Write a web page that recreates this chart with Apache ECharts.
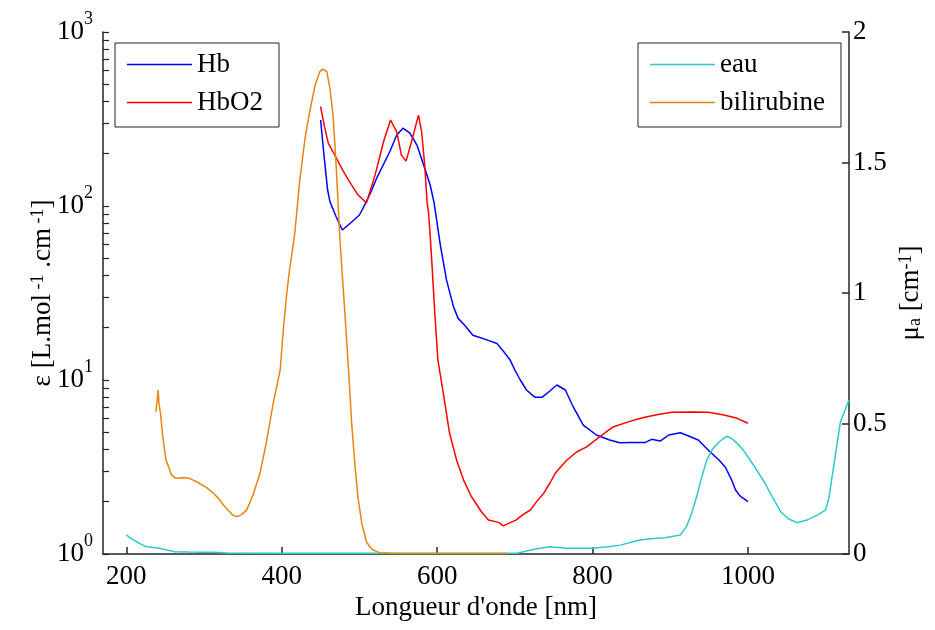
<!DOCTYPE html>
<html>
<head>
<meta charset="utf-8">
<script src="https://cdn.jsdelivr.net/npm/echarts@6/dist/echarts.min.js"></script>
<style>
  html, body { margin: 0; padding: 0; background: #fff; }
  #chart { width: 935px; height: 630px; }
</style>
</head>
<body>
<div id="chart"></div>
<script>
// Molar extinction of deoxy-haemoglobin (Hb), L.mol-1.cm-1 (left, log axis)
const hbNm = [450, 455, 459, 462, 470, 478, 490, 500, 508, 515, 522, 530, 539, 548, 556, 565, 574, 584, 591, 596,
  604, 612, 621, 627, 636, 646, 656, 664, 677, 686, 694, 700, 707, 715, 726, 735, 745, 754, 765, 775,
  788, 805, 822, 835, 850, 868, 876, 887, 898, 913, 926, 936, 951, 962, 971, 979, 984, 990, 1000];
const hbEps = [312, 184, 124, 106, 86.8, 72.8, 80.9, 88.8, 104, 121, 144, 170, 205, 256, 280, 262, 224, 165, 132, 105,
  60, 37.6, 26.4, 22.6, 20.5, 18.1, 17.5, 17.0, 16.2, 14.5, 13.0, 11.4, 10.0, 8.76, 7.95, 7.95, 8.65, 9.36, 8.76, 7.02,
  5.51, 4.83, 4.52, 4.36, 4.38, 4.38, 4.56, 4.46, 4.83, 4.98, 4.72, 4.52, 3.87, 3.49, 3.15, 2.66, 2.33, 2.15, 2.0];

// Molar extinction of oxy-haemoglobin (HbO2)
const hbo2Nm = [450, 455, 460, 470, 478, 486, 498, 509, 520, 531, 540, 548, 554, 560, 567, 576, 580, 584, 587, 589,
  591, 593, 597, 601, 608, 616, 625, 634, 644, 657, 666, 679, 685, 692, 702, 710, 720, 728, 737, 745,
  752, 760, 767, 780, 793, 810, 818, 827, 844, 857, 870, 886, 902, 930, 949, 969, 986, 1000];
const hbo2Eps = [372, 286, 229, 190, 162, 141, 116, 104, 150, 234, 312, 267, 196, 181, 234, 333, 267, 172, 106, 90.8,
  68, 49, 24.2, 13.0, 8.38, 4.94, 3.47, 2.66, 2.14, 1.75, 1.57, 1.52, 1.45, 1.5, 1.57, 1.68, 1.79, 2.0, 2.23, 2.55,
  2.91, 3.2, 3.47, 3.87, 4.14, 4.75, 5.05, 5.39, 5.71, 5.95, 6.15, 6.35, 6.52, 6.55, 6.52, 6.29, 6.02, 5.64];

// Absorption coefficient of water, cm-1 (right axis)
const eauNm = [200, 206, 213, 220, 226, 235, 243, 252, 262, 280, 300, 311, 330, 400, 500, 600, 690, 704, 711, 725,
  745, 767, 800, 820, 836, 852, 861, 875, 893, 913, 921, 928, 934, 940, 947, 954, 963, 973, 980, 986,
  994, 1007, 1022, 1032, 1042, 1052, 1063, 1076, 1090, 1100, 1104, 1110, 1119, 1130];
const eauMu = [0.073, 0.06, 0.047, 0.036, 0.028, 0.025, 0.022, 0.015, 0.009, 0.008, 0.007, 0.0065, 0.004, 0.003, 0.003, 0.003, 0.003, 0.004, 0.009, 0.018,
  0.028, 0.022, 0.022, 0.028, 0.034, 0.047, 0.054, 0.058, 0.062, 0.073, 0.105, 0.16, 0.22, 0.29, 0.36, 0.40, 0.43, 0.452, 0.44, 0.424,
  0.398, 0.341, 0.271, 0.215, 0.162, 0.135, 0.12, 0.13, 0.15, 0.169, 0.213, 0.33, 0.507, 0.59];

// Absorption coefficient of bilirubin, cm-1 (right axis)
const biliNm = [238, 239.5, 241, 242, 244, 247, 251, 255, 258, 264, 272, 281, 288, 294, 303, 312, 318, 325, 331, 337,
  342, 348, 355, 363, 372, 380, 389, 398, 402, 406, 410, 415, 417, 423, 430, 436, 443, 449, 453, 458,
  462, 466, 470, 475, 481, 486, 490, 494, 498, 503, 509, 514, 518, 526, 540, 560, 600, 650, 690];
const biliMu = [0.545, 0.584, 0.628, 0.577, 0.539, 0.449, 0.36, 0.33, 0.303, 0.29, 0.292, 0.29, 0.28, 0.271, 0.255, 0.233, 0.215, 0.188, 0.168, 0.149,
  0.143, 0.15, 0.169, 0.226, 0.309, 0.424, 0.577, 0.705, 0.858, 0.986, 1.088, 1.19, 1.235, 1.426, 1.593, 1.695, 1.797, 1.848, 1.858, 1.848,
  1.784, 1.682, 1.49, 1.2, 0.935, 0.705, 0.501, 0.348, 0.22, 0.118, 0.047, 0.025, 0.015, 0.005, 0.003, 0.002, 0.002, 0.002, 0.002];

const xTicks = [200, 400, 600, 800, 1000];
const logLabels = [1, 10, 100, 1000];
const logTicks = [1, 2, 3, 4, 5, 6, 7, 8, 9, 10, 20, 30, 40, 50, 60, 70, 80, 90, 100, 200, 300, 400, 500, 600, 700, 800, 900, 1000];

const FONT = 'Liberation Serif';
const AXIS = '#262626';
const pairs = (xs, ys) => xs.map((x, i) => [x, ys[i]]);

const chart = echarts.init(document.getElementById('chart'), null, { renderer: 'canvas' });

const lineSeries = (name, xs, ys, color, yAxisIndex) => ({
  name, type: 'line', yAxisIndex, data: pairs(xs, ys), symbol: 'none',
  lineStyle: { color, width: 1.5 }, itemStyle: { color }, animation: false
});

// Legend keys drawn as plain line segments, boxed
const legendBase = {
  orient: 'vertical', top: 43, itemWidth: 65, itemHeight: 1.5, itemGap: 11,
  icon: 'rect',
  padding: [8, 16, 11, 12], borderColor: '#222', borderWidth: 1, backgroundColor: '#fff',
  borderRadius: 0,
  textStyle: { fontFamily: FONT, fontSize: 27, lineHeight: 27, color: '#000' }
};

chart.setOption({
  backgroundColor: '#fff',
  animation: false,
  grid: { left: 103, right: 86, top: 32, bottom: 76, containLabel: false },
  legend: [
    Object.assign({}, legendBase, { data: ['Hb', 'HbO2'], left: 115 }),
    Object.assign({}, legendBase, { data: ['eau', 'bilirubine'], left: 638 })
  ],
  xAxis: {
    type: 'value', min: 170, max: 1130,
    name: "Longueur d'onde [nm]", nameLocation: 'middle', nameGap: 36,
    nameTextStyle: { fontFamily: FONT, fontSize: 27, color: '#000' },
    axisLine: { lineStyle: { color: AXIS, width: 1.5 } },
    axisTick: { inside: true, length: 7, customValues: xTicks, lineStyle: { color: AXIS, width: 1.5 } },
    axisLabel: { customValues: xTicks, margin: 9, fontFamily: FONT, fontSize: 27, color: '#000', formatter: v => String(v) },
    splitLine: { show: false }
  },
  yAxis: [
    {
      type: 'log', logBase: 10, min: 1, max: 1000, position: 'left',
      name: '{m|ε [L.mol}{sup| -1}{m| .cm}{sup| -1}{m|]}', nameLocation: 'middle', nameRotate: 90,
      nameGap: 47, nameMoveOverlap: false,
      nameTextStyle: {
        fontFamily: FONT, color: '#000',
        rich: {
          m: { fontFamily: FONT, fontSize: 27, lineHeight: 27, verticalAlign: 'bottom', color: '#000' },
          sup: { fontFamily: FONT, fontSize: 18, lineHeight: 18, verticalAlign: 'top', color: '#000' }
        }
      },
      axisLine: { show: true, lineStyle: { color: AXIS, width: 1.5 } },
      axisTick: { inside: true, length: 6, customValues: logTicks, lineStyle: { color: AXIS, width: 1.2 } },
      axisLabel: {
        customValues: logLabels, margin: 10, fontFamily: FONT, color: '#000',
        formatter: v => '{b|10}{s|' + Math.round(Math.log10(v)) + '}',
        rich: {
          b: { fontFamily: FONT, fontSize: 27, lineHeight: 44, verticalAlign: 'middle', color: '#000' },
          s: { fontFamily: FONT, fontSize: 18, lineHeight: 18, verticalAlign: 'top', color: '#000' }
        }
      },
      splitLine: { show: false }
    },
    {
      type: 'value', min: 0, max: 2, interval: 0.5, position: 'right',
      name: '{m|μ}{sub|a}{m| [cm}{sup|-1}{m|]}', nameLocation: 'middle', nameRotate: 90,
      nameGap: 38,
      nameTextStyle: {
        fontFamily: FONT, color: '#000',
        rich: {
          m: { fontFamily: FONT, fontSize: 27, lineHeight: 27, verticalAlign: 'middle', color: '#000' },
          sup: { fontFamily: FONT, fontSize: 18, lineHeight: 18, verticalAlign: 'top', color: '#000' },
          sub: { fontFamily: FONT, fontSize: 18, lineHeight: 18, verticalAlign: 'bottom', color: '#000' }
        }
      },
      axisLine: { show: true, lineStyle: { color: AXIS, width: 1.5 } },
      axisTick: { inside: true, length: 7, lineStyle: { color: AXIS, width: 1.5 } },
      axisLabel: { margin: 4, fontFamily: FONT, fontSize: 27, color: '#000' },
      splitLine: { show: false }
    }
  ],
  series: [
    lineSeries('Hb', hbNm, hbEps, '#0000ff', 0),
    lineSeries('HbO2', hbo2Nm, hbo2Eps, '#ff0000', 0),
    lineSeries('eau', eauNm, eauMu, '#2ccaca', 1),
    lineSeries('bilirubine', biliNm, biliMu, '#e8850e', 1)
  ]
});
</script>
</body>
</html>
